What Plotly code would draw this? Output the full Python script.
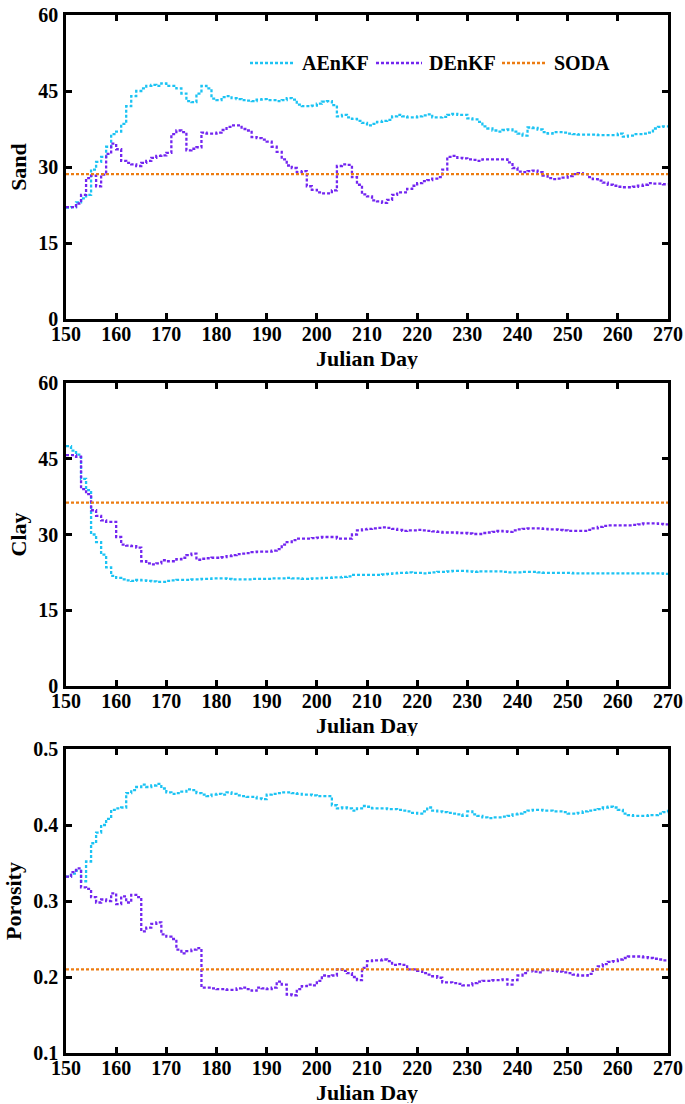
import plotly.graph_objects as go
from plotly.subplots import make_subplots

# Julian days of the assimilation window
days = list(range(150, 271))

# Estimated sand content (%)
sand_aenkf = [
    22.0, 22.1, 23.0, 23.8, 24.5, 29.5, 31.0, 32.0, 34.0, 36.5,
    37.0, 38.5, 42.0, 44.0, 45.0, 45.5, 46.0, 46.2, 46.0, 46.5,
    46.0, 46.0, 45.5, 44.5, 43.0, 42.8, 44.5, 46.0, 45.5, 43.5,
    43.2, 43.8, 44.0, 43.6, 43.4, 43.2, 43.1, 43.0, 43.3, 43.4,
    43.2, 43.2, 43.0, 43.2, 43.6, 43.3, 42.3, 42.0, 42.0, 42.1,
    42.5, 42.9, 43.0, 42.2, 40.0, 40.3, 39.8, 39.5, 39.1, 38.7,
    38.2, 38.5, 38.9, 39.1, 39.3, 40.0, 40.3, 40.0, 39.8, 39.8,
    40.0, 40.2, 40.4, 39.8, 39.8, 39.9, 40.3, 40.5, 40.3, 40.3,
    39.6, 39.4, 38.9, 38.0, 37.6, 37.2, 37.0, 37.3, 37.4, 37.0,
    36.6, 36.2, 37.8, 37.7, 37.4, 36.9, 36.6, 36.9, 36.9, 36.8,
    36.6, 36.5, 36.4, 36.4, 36.4, 36.4, 36.3, 36.3, 36.3, 36.3,
    36.6, 36.0, 36.2, 36.5, 36.5, 36.6, 36.8, 37.6, 37.9, 38.0,
    38.2,
]
sand_denkf = [
    22.1, 22.1, 22.8, 24.5, 27.8, 28.3, 26.2, 28.5, 32.6, 34.6,
    33.5, 31.2, 30.8, 30.5, 30.2, 30.8, 31.2, 31.8, 32.2, 32.3,
    32.8, 36.5, 37.2, 36.9, 33.3, 33.6, 33.9, 36.8, 36.6, 36.6,
    36.8, 37.3, 37.9, 38.2, 38.2, 37.5, 37.2, 35.9, 35.7, 35.4,
    35.0, 34.0, 33.0, 31.5, 30.3, 29.8, 29.0, 29.2, 26.2, 25.5,
    25.0, 24.8, 24.8, 25.4, 30.2, 30.5, 30.4, 28.0, 26.5, 24.6,
    24.2, 23.4, 23.2, 22.9, 23.5, 24.5, 25.0, 25.0, 25.7, 26.3,
    26.8, 27.2, 27.4, 27.7, 28.0, 29.5, 32.0, 32.2, 31.8, 31.7,
    31.5, 31.4, 31.2, 31.5, 31.5, 31.5, 31.5, 31.5, 30.9, 29.8,
    29.1, 29.0, 29.2, 29.3, 29.0, 28.3, 27.8, 27.6, 27.7, 27.9,
    28.2, 28.6, 28.8, 28.6, 28.0, 27.6, 27.3, 26.9, 26.5, 26.3,
    26.1, 26.0, 26.0, 26.1, 26.3, 26.5, 26.8, 26.7, 26.7, 26.6,
    26.6,
]
sand_soda = 28.6

# Estimated clay content (%)
clay_aenkf = [
    47.5, 46.6, 45.8, 41.0, 38.8, 30.0, 28.5, 26.0, 23.5, 21.8,
    21.4, 21.1, 20.9, 20.8, 21.0, 20.9, 20.8, 20.7, 20.6, 20.6,
    20.8, 20.9, 21.0, 21.0, 21.0, 21.1, 21.1, 21.2, 21.2, 21.3,
    21.3, 21.3, 21.2, 21.1, 21.1, 21.1, 21.1, 21.2, 21.2, 21.2,
    21.2, 21.3, 21.3, 21.3, 21.4, 21.3, 21.3, 21.2, 21.2, 21.3,
    21.3, 21.4, 21.4, 21.5, 21.5, 21.6, 21.7, 22.0, 22.0, 22.0,
    22.0, 22.0, 22.0, 22.1, 22.2, 22.3, 22.4, 22.4, 22.5, 22.4,
    22.4, 22.3, 22.4, 22.5, 22.6, 22.6, 22.7, 22.8, 22.8, 22.8,
    22.7, 22.6, 22.7, 22.7, 22.7, 22.7, 22.7, 22.6, 22.5, 22.5,
    22.5, 22.6, 22.6, 22.6, 22.5, 22.4, 22.4, 22.4, 22.4, 22.4,
    22.4, 22.3, 22.3, 22.3, 22.3, 22.3, 22.3, 22.3, 22.3, 22.3,
    22.3, 22.3, 22.3, 22.3, 22.3, 22.3, 22.3, 22.3, 22.3, 22.2,
    21.9,
]
clay_denkf = [
    45.7, 45.7, 45.4, 39.0, 38.0, 34.8, 33.7, 32.8, 32.5, 32.5,
    29.5, 28.0, 27.8, 27.7, 27.4, 24.7, 24.3, 24.1, 24.3, 24.9,
    24.7, 24.7, 25.1, 25.4, 25.9, 26.2, 25.0, 25.2, 25.3, 25.4,
    25.4, 25.5, 25.7, 25.9, 26.1, 26.2, 26.3, 26.5, 26.6, 26.6,
    26.6, 26.8, 27.1, 28.0, 28.5, 28.9, 29.2, 29.2, 29.2, 29.3,
    29.4, 29.5, 29.5, 29.5, 29.2, 29.2, 29.2, 30.0, 30.8, 31.0,
    31.1, 31.2, 31.3, 31.4, 31.3, 31.1, 30.9, 30.7, 30.8, 30.8,
    30.9, 30.8, 30.7, 30.6, 30.5, 30.4, 30.4, 30.4, 30.3, 30.3,
    30.2, 30.1, 30.1, 30.3, 30.4, 30.5, 30.7, 30.6, 30.5, 30.8,
    31.0, 31.1, 31.2, 31.2, 31.2, 31.1, 31.0, 31.0, 30.9, 30.8,
    30.7, 30.7, 30.7, 30.7, 30.9, 31.2, 31.5, 31.7, 31.8, 31.8,
    31.8, 31.8, 31.8, 31.9, 32.0, 32.2, 32.2, 32.2, 32.1, 32.0,
    32.0,
]
clay_soda = 36.3

# Estimated porosity
porosity_aenkf = [
    0.332, 0.336, 0.340, 0.326, 0.352, 0.376, 0.390, 0.400, 0.408, 0.420,
    0.422, 0.423, 0.442, 0.446, 0.450, 0.453, 0.450, 0.452, 0.454, 0.448,
    0.443, 0.441, 0.442, 0.444, 0.447, 0.446, 0.442, 0.440, 0.438, 0.440,
    0.441, 0.440, 0.443, 0.441, 0.439, 0.438, 0.437, 0.437, 0.435, 0.434,
    0.440, 0.441, 0.442, 0.443, 0.443, 0.442, 0.441, 0.440, 0.440, 0.439,
    0.438, 0.438, 0.438, 0.426, 0.422, 0.423, 0.422, 0.419, 0.422, 0.425,
    0.424, 0.422, 0.422, 0.422, 0.421, 0.421, 0.420, 0.419, 0.418, 0.416,
    0.415, 0.418, 0.423, 0.419, 0.418, 0.417, 0.416, 0.415, 0.414, 0.412,
    0.418, 0.414, 0.412, 0.410, 0.409, 0.410, 0.410, 0.411, 0.412, 0.414,
    0.415, 0.417, 0.419, 0.420, 0.420, 0.419, 0.419, 0.418, 0.418, 0.417,
    0.415, 0.415, 0.416, 0.418, 0.419, 0.420, 0.421, 0.423, 0.424, 0.423,
    0.420, 0.415, 0.413, 0.412, 0.412, 0.412, 0.413, 0.413, 0.415, 0.417,
    0.420,
]
porosity_denkf = [
    0.332, 0.338, 0.343, 0.318, 0.316, 0.305, 0.298, 0.302, 0.300, 0.310,
    0.296, 0.306, 0.298, 0.308, 0.305, 0.260, 0.265, 0.270, 0.272, 0.256,
    0.253, 0.250, 0.236, 0.231, 0.234, 0.236, 0.238, 0.186, 0.186, 0.185,
    0.184, 0.184, 0.183, 0.183, 0.185, 0.186, 0.184, 0.182, 0.186, 0.185,
    0.184, 0.186, 0.194, 0.190, 0.177, 0.176, 0.184, 0.188, 0.190, 0.189,
    0.195, 0.202, 0.201, 0.202, 0.210, 0.208, 0.205, 0.200, 0.196, 0.212,
    0.221, 0.222, 0.222, 0.223, 0.221, 0.216, 0.217, 0.216, 0.210, 0.210,
    0.208, 0.205, 0.203, 0.201, 0.199, 0.193, 0.193, 0.192, 0.191, 0.189,
    0.189, 0.192, 0.194, 0.195, 0.195, 0.196, 0.196, 0.197, 0.190, 0.196,
    0.202, 0.205, 0.209, 0.207, 0.206, 0.209, 0.209, 0.208, 0.207, 0.206,
    0.205, 0.203, 0.202, 0.202, 0.204, 0.210, 0.214, 0.217, 0.220, 0.221,
    0.223, 0.225, 0.227, 0.227, 0.227, 0.226, 0.225, 0.224, 0.223, 0.222,
    0.222,
]
porosity_soda = 0.21

panel_titles = ["Sand", "Clay", "Porosity"]
x_title = "Julian Day"
y_ranges = [[0, 60], [0, 60], [0.1, 0.5]]
y_ticks = [[0, 15, 30, 45, 60], [0, 15, 30, 45, 60], [0.1, 0.2, 0.3, 0.4, 0.5]]
y_ticklabels = [["0", "15", "30", "45", "60"], ["0", "15", "30", "45", "60"],
                ["0.1", "0.2", "0.3", "0.4", "0.5"]]
x_ticks = list(range(150, 271, 10))

series_names = ["AEnKF", "DEnKF", "SODA"]
colors = {"AEnKF": "#1cc3f3", "DEnKF": "#7326f0", "SODA": "#ec7c12"}

panels = [
    (sand_aenkf, sand_denkf, sand_soda),
    (clay_aenkf, clay_denkf, clay_soda),
    (porosity_aenkf, porosity_denkf, porosity_soda),
]

W, H = 685, 1104
FONT = "Liberation Serif"
DASH = "3px,2px"
LW = 2.3

fig = make_subplots(rows=3, cols=1)

for i, (a_vals, d_vals, soda_val) in enumerate(panels):
    row = i + 1
    fig.add_trace(go.Scatter(
        x=days, y=a_vals, mode="lines", name="AEnKF", showlegend=False,
        line=dict(color=colors["AEnKF"], width=LW, dash=DASH, shape="hv"),
    ), row=row, col=1)
    fig.add_trace(go.Scatter(
        x=days, y=d_vals, mode="lines", name="DEnKF", showlegend=False,
        line=dict(color=colors["DEnKF"], width=LW, dash=DASH, shape="hv"),
    ), row=row, col=1)
    fig.add_trace(go.Scatter(
        x=[days[0], days[-1]], y=[soda_val, soda_val], mode="lines", name="SODA",
        showlegend=False,
        line=dict(color=colors["SODA"], width=LW, dash=DASH),
    ), row=row, col=1)

# Plot-area positions of the three stacked panels, in pixels from the top
x_px = (66, 668)
y_px = [(15, 319), (383, 686), (749, 1053)]
# distance of each "Julian Day" title centre below its panel
x_title_gap = [39, 39, 39]

axis_common = dict(
    showline=True, linecolor="black", linewidth=2.5, mirror="ticks",
    ticks="inside", ticklen=6, tickwidth=2.5, tickcolor="black",
    showgrid=False, zeroline=False, automargin=False,
    tickfont=dict(family=FONT, size=20, color="black", weight="bold"),
)
title_font = dict(family=FONT, size=22, color="black", weight="bold")

for i in range(3):
    xa = "xaxis" if i == 0 else f"xaxis{i + 1}"
    ya = "yaxis" if i == 0 else f"yaxis{i + 1}"
    top, bottom = y_px[i]
    fig.update_layout({
        xa: dict(
            axis_common, domain=[x_px[0] / W, x_px[1] / W], range=[150, 270],
            tickmode="array", tickvals=x_ticks, ticklabelstandoff=-5,
        ),
        ya: dict(
            axis_common, domain=[1 - bottom / H, 1 - top / H], range=y_ranges[i],
            tickmode="array", tickvals=y_ticks[i], ticktext=y_ticklabels[i],
            ticklabelstandoff=1,
            title=dict(text=panel_titles[i], standoff=6, font=title_font),
        ),
    })
    fig.add_annotation(
        xref="paper", yref="paper",
        x=(x_px[0] + x_px[1]) / 2 / W, y=1 - (bottom + x_title_gap[i]) / H,
        xanchor="center", yanchor="middle", showarrow=False,
        text=x_title, font=title_font, height=22,
    )

# Legend drawn inside the top panel: dashed sample line + bold label per series
legend_line_x = [(250, 295), (376, 422), (502, 547)]
legend_y = 1 - 63 / H
for name, (x0, x1) in zip(series_names, legend_line_x):
    fig.add_shape(
        type="line", xref="paper", yref="paper",
        x0=x0 / W, x1=x1 / W, y0=legend_y, y1=legend_y,
        line=dict(color=colors[name], width=LW, dash=DASH),
    )
    fig.add_annotation(
        xref="paper", yref="paper", x=(x1 + 5) / W, y=legend_y,
        xanchor="left", yanchor="middle", showarrow=False,
        text=name, font=dict(family=FONT, size=20, color="black", weight="bold"),
    )

fig.update_layout(
    width=W, height=H,
    margin=dict(l=0, r=0, t=0, b=0),
    paper_bgcolor="white", plot_bgcolor="white",
    showlegend=False,
)

fig.write_html("out.html")
